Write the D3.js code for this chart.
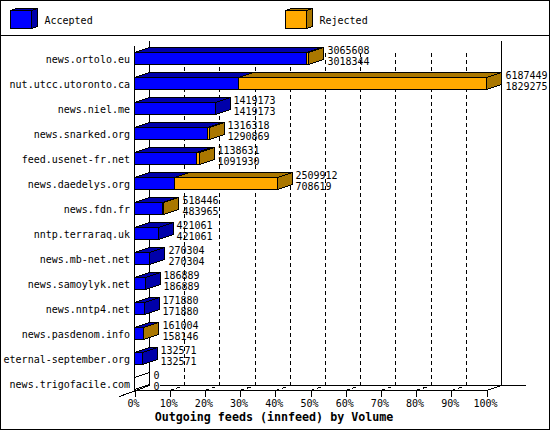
<!DOCTYPE html>
<html>
<head>
<meta charset="utf-8">
<script src="https://cdn.jsdelivr.net/npm/d3@7"></script>
<style>
html,body{margin:0;padding:0;background:#fff}
svg{display:block}
text{font-family:"DejaVu Sans Mono",monospace;font-size:10px;fill:#000}
.title{font-weight:bold;font-size:11.67px}
</style>
</head>
<body>
<svg id="c" width="550" height="430"></svg>
<script>
const categories = ["news.ortolo.eu","nut.utcc.utoronto.ca","news.niel.me","news.snarked.org","feed.usenet-fr.net","news.daedelys.org","news.fdn.fr","nntp.terraraq.uk","news.mb-net.net","news.samoylyk.net","news.nntp4.net","news.pasdenom.info","eternal-september.org","news.trigofacile.com"];
const offered  = [3065608,6187449,1419173,1316318,1138631,2509912,518446,421061,270304,186889,171880,161004,132571,0];
const accepted = [3018344,1829275,1419173,1290869,1091930,708619,483965,421061,270304,186889,171880,158146,132571,0];
const legendLabels = ["Accepted","Rejected"];
const pctTicks = [0,10,20,30,40,50,60,70,80,90,100];
const chartTitle = "Outgoing feeds (innfeed) by Volume";

const blue="#0000ff", blueDark="#0000aa", orange="#ffaa00", orangeDark="#aa7700";
const dx=15, dy=-5;
const svg=d3.select("#c");
const crisp=s=>s.attr("shape-rendering","crispEdges");

const pct=d3.scaleLinear().domain([0,100]).range([134.5,486.5]);
const x=d3.scaleLinear().domain([0,d3.max(offered)]).range([134.5,486.5]);
const y=d3.scaleBand().domain(categories).range([40.5,390.5]);
const floorY=390.5, topY=40.5;

// frame
crisp(svg.append("rect").attr("x",0.5).attr("y",0.5).attr("width",549).attr("height",429).attr("fill","#fff").attr("stroke","#000"));
crisp(svg.append("line").attr("x1",0).attr("x2",550).attr("y1",35.5).attr("y2",35.5).attr("stroke","#000"));

// legend
const legendX=d3.scaleOrdinal().domain(legendLabels).range([10.5,285.5]);
const legendCols={Accepted:[blue,blueDark],Rejected:[orange,orangeDark]};
legendLabels.forEach(l=>{
  const g=svg.append("g").attr("transform",`translate(${legendX(l)},10.5)`);
  const [f,d]=legendCols[l];
  const w=21,h=18,a=6,b=-2;
  crisp(g.append("polygon").attr("points",`0,0 ${a},${b} ${w+a},${b} ${w},0`).attr("fill",d).attr("stroke","#000"));
  crisp(g.append("polygon").attr("points",`${w},0 ${w+a},${b} ${w+a},${h+b} ${w},${h}`).attr("fill",d).attr("stroke","#000"));
  crisp(g.append("rect").attr("width",w).attr("height",h).attr("fill",f).attr("stroke","#000"));
  svg.append("text").attr("x",legendX(l)+34).attr("y",23.5).text(l);
});

// walls and grid
const grid=svg.append("g");
crisp(grid.append("line").attr("x1",pct(0)+dx).attr("x2",pct(0)+dx).attr("y1",topY).attr("y2",floorY+dy).attr("stroke","#000"));
crisp(grid.append("line").attr("x1",pct(100)+dx).attr("x2",pct(100)+dx).attr("y1",topY).attr("y2",floorY+dy).attr("stroke","#000"));
pctTicks.slice(1,-1).forEach(t=>{
  crisp(grid.append("line").attr("x1",pct(t)+dx).attr("x2",pct(t)+dx).attr("y1",floorY+dy).attr("y2",topY+9).attr("stroke","#000").attr("stroke-dasharray","4 3"));
  crisp(grid.append("line").attr("x1",pct(t)).attr("x2",pct(t)+dx).attr("y1",floorY).attr("y2",floorY+dy).attr("stroke","#000").attr("stroke-dasharray","4 3"));
});
// floor
crisp(grid.append("line").attr("x1",pct(0)+dx+10).attr("x2",526).attr("y1",floorY+dy).attr("y2",floorY+dy).attr("stroke","#000"));
crisp(grid.append("line").attr("x1",pct(0)-dx).attr("x2",pct(0)+dx).attr("y1",floorY-dy+1).attr("y2",floorY+dy).attr("stroke","#000"));
crisp(grid.append("line").attr("x1",pct(100)).attr("x2",pct(100)+dx).attr("y1",floorY).attr("y2",floorY+dy).attr("stroke","#000"));
crisp(grid.append("line").attr("x1",pct(0)).attr("x2",pct(0)).attr("y1",topY+5).attr("y2",floorY).attr("stroke","#000"));

// x axis
const axis=svg.append("g").attr("transform",`translate(0,${floorY})`)
  .call(d3.axisBottom(pct).tickValues(pctTicks).tickSize(6).tickPadding(3).tickFormat(d=>d+"%"));
axis.select(".domain").attr("stroke","#000").attr("d",`M${pct(0)},0H${pct(100)}`).attr("shape-rendering","crispEdges");
axis.selectAll("line").attr("shape-rendering","crispEdges");
axis.selectAll("text").attr("dx",-1.5);
axis.attr("font-family",null).attr("font-size",null);

// category labels
svg.append("g").selectAll("text").data(categories).join("text")
  .attr("x",130).attr("y",c=>y(c)+22).attr("text-anchor","end").text(c=>c);

// bars
const para=(x0,x1,yTop,yBot)=>`${x0},${yTop} ${x1},${yTop} ${x1},${yBot} ${x0},${yBot}`;
const topFace=(x0,x1,yTop)=>`${x0},${yTop} ${x0+dx},${yTop+dy} ${x1+dx},${yTop+dy} ${x1},${yTop}`;
const side=(x1,yTop,yBot)=>`${x1},${yTop} ${x1+dx},${yTop+dy} ${x1+dx},${yBot+dy} ${x1},${yBot}`;
const rows=svg.append("g").selectAll("g").data(categories).join("g");
rows.each(function(c,i){
  const g=d3.select(this);
  const t=y(c)+12, b=y(c)+24;
  const xa=Math.round(x(accepted[i])-0.5)+0.5, xo=Math.round(x(offered[i])-0.5)+0.5;
  const hasRej=offered[i]>accepted[i];
  const empty=offered[i]===0;
  const p=(pts,fill)=>crisp(g.append("polygon").attr("points",pts).attr("fill",fill).attr("stroke","#000"));
  p(topFace(x(0),xa,t),blueDark);
  if(hasRej) p(topFace(xa,xo,t),orangeDark);
  p(side(xo,t,b),empty?"none":(hasRej?orangeDark:blueDark));
  p(para(x(0),xa,t,b),blue);
  if(hasRej) p(para(xa,xo,t,b),orange);
});
// value labels, drawn above all bars
svg.append("g").selectAll("g").data(categories).join("g").each(function(c,i){
  const g=d3.select(this);
  const t=y(c)+12;
  const lx=Math.round(x(offered[i]))+dx+3.5;
  g.append("text").attr("x",lx).attr("y",t+1).text(offered[i]);
  g.append("text").attr("x",lx).attr("y",t+12).text(accepted[i]);
});

svg.append("text").attr("class","title").attr("x",274).attr("y",421).attr("text-anchor","middle").text(chartTitle);
</script>
</body>
</html>
